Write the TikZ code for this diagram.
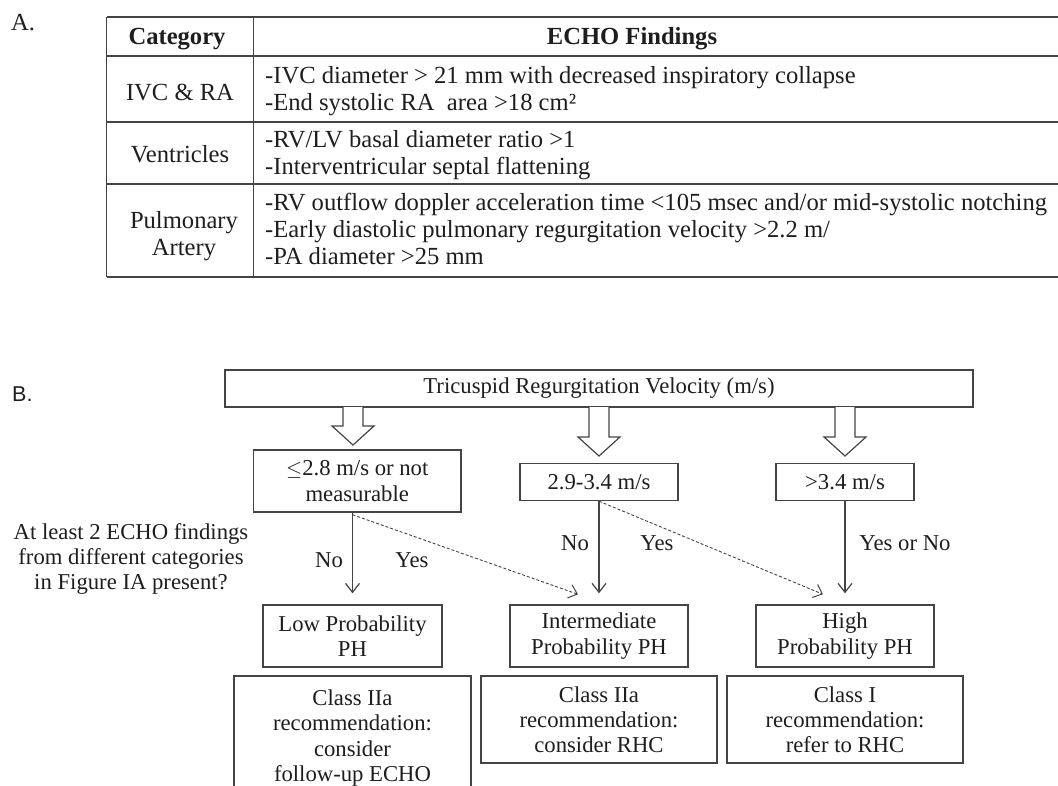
\documentclass[tikz,border=0pt]{standalone}
\usepackage{fontspec}
\setmainfont{Liberation Serif}
\newfontfamily\sansf{Liberation Sans}
\usetikzlibrary{arrows.meta}
\definecolor{ln}{HTML}{444444}
\definecolor{tx}{HTML}{1E1E1E}
\tikzset{
  tfont/.style={font=\fontsize{24.6}{27}\selectfont, text=tx, inner sep=0pt},
  ffont/.style={font=\fontsize{22.7}{25.2}\selectfont, text=tx, inner sep=0pt, align=center},
  box/.style={draw=ln, line width=1.4pt, ffont, align=center},
  tline/.style={draw=ln, line width=1.5pt},
  arr/.style={draw=ln, line width=1.2pt, -{Straight Barb[length=9pt,width=14pt,line width=1.2pt]}},
  darr/.style={draw=ln, line width=0.9pt, dash pattern=on 3pt off 2pt, -{Straight Barb[length=8pt,width=14pt,line width=1pt]}},
  hollow/.style={draw=ln, line width=1.2pt, fill=white, line join=miter}
}
\begin{document}
\begin{tikzpicture}[x=1pt,y=-1pt]
\useasboundingbox (0,0) rectangle (1058,785);
\clip (0,0) rectangle (1058,785);
\fill[white] (0,0) rectangle (1058,785);

% ---------- Part A ----------
\node[tfont, anchor=base west] (labA) at (11,30) {A.};
\draw[tline] (106.5,17) -- (1060,17);
\draw[tline] (106.5,56) -- (1060,56);
\draw[tline] (106.5,122) -- (1060,122);
\draw[tline] (106.5,184) -- (1060,184);
\draw[tline] (106.5,277) -- (1060,277);
\draw[tline] (106.5,17) -- (106.5,277);
\draw[tline] (253.5,17) -- (253.5,277);

\node[tfont, anchor=base, font=\fontsize{24.6}{27}\selectfont\bfseries] (hcat) at (177,44.5) {Category};
\node[tfont, anchor=base, font=\fontsize{24.6}{27}\selectfont\bfseries] (hecho) at (632,44.5) {ECHO Findings};

\node[tfont, anchor=base] (c1) at (180,100) {IVC \& RA};
\node[tfont, anchor=base] (c2) at (180,162) {Ventricles};
\node[tfont, anchor=base] (c3a) at (184,228) {Pulmonary};
\node[tfont, anchor=base] (c3b) at (184,255) {Artery};

\node[tfont, anchor=base west] (f1a) at (265,83) {-IVC diameter > 21 mm with decreased inspiratory collapse};
\node[tfont, anchor=base west] (f1b) at (265,110) {-End systolic RA\ \ area >18 cm²};
\node[tfont, anchor=base west] (f2a) at (265,147) {-RV/LV basal diameter ratio >1};
\node[tfont, anchor=base west] (f2b) at (265,174) {-Interventricular septal flattening};
\node[tfont, anchor=base west] (f3a) at (265,210) {-RV outflow doppler acceleration time <105 msec and/or mid-systolic notching};
\node[tfont, anchor=base west] (f3b) at (265,237) {-Early diastolic pulmonary regurgitation velocity >2.2 m/};
\node[tfont, anchor=base west] (f3c) at (265,264) {-PA diameter >25 mm};

% ---------- Part B ----------
\node[anchor=base west, inner sep=0pt, font=\sansf\fontsize{21.5}{24}\selectfont, text=tx] (labB) at (12,401) {B.};

\node[box, minimum width=748pt, minimum height=37pt] (trv) at (599,388.5) {Tricuspid Regurgitation Velocity (m/s)};

\node[box, minimum width=207.5pt, minimum height=62pt] (lv1) at (357.25,481) {$\leq$2.8 m/s or not\\measurable};
\node[box, minimum width=158pt, minimum height=37pt] (lv2) at (599,482) {2.9-3.4 m/s};
\node[box, minimum width=138pt, minimum height=37pt] (lv3) at (845,482) {>3.4 m/s};

% hollow arrows
\draw[hollow] (343,407) -- (343,426) -- (332,426) -- (353,445) -- (374,426) -- (363,426) -- (363,407);
\draw[hollow] (589,407) -- (589,437) -- (578,437) -- (599,456) -- (620,437) -- (609,437) -- (609,407);
\draw[hollow] (835,407) -- (835,437) -- (824,437) -- (845,456) -- (866,437) -- (855,437) -- (855,407);

\node[ffont] (q) at (131,559) {At least 2 ECHO findings\\from different categories\\in Figure IA present?};

\node[box, minimum width=179pt, minimum height=62pt] (low) at (352.5,636) {Low Probability\\PH};
\node[box, minimum width=178pt, minimum height=62pt] (mid) at (599,636) {Intermediate\\Probability PH};
\node[box, minimum width=178pt, minimum height=62pt] (high) at (845,636) {High\\Probability PH};

\node[box, minimum width=237pt, minimum height=124pt] (rlow) at (352.5,738) {Class IIa\\recommendation:\\consider\\follow-up ECHO};
\node[box, minimum width=236pt, minimum height=87pt] (rmid) at (599,719.5) {Class IIa\\recommendation:\\consider RHC};
\node[box, minimum width=236pt, minimum height=87pt] (rhigh) at (845,719.5) {Class I\\recommendation:\\refer to RHC};

% connectors
\draw[arr] (lv1.south -| low.north) -- ([yshift=11pt]low.north);
\draw[arr] (lv2.south) -- ([yshift=11pt]mid.north);
\draw[arr] (lv3.south) -- ([yshift=11pt]high.north);
\draw[darr] ([yshift=-2pt]lv1.south -| low.north) -- ([xshift=-21pt,yshift=10pt]mid.north);
\draw[darr] (lv2.south) -- ([xshift=-22pt,yshift=10pt]high.north);

\node[ffont] (no1) at (329,560) {No};
\node[ffont] (yes1) at (412,560) {Yes};
\node[ffont] (no2) at (575,543) {No};
\node[ffont] (yes2) at (657,543) {Yes};
\node[ffont] (yn3) at (905,543) {Yes or No};
\end{tikzpicture}
\end{document}
